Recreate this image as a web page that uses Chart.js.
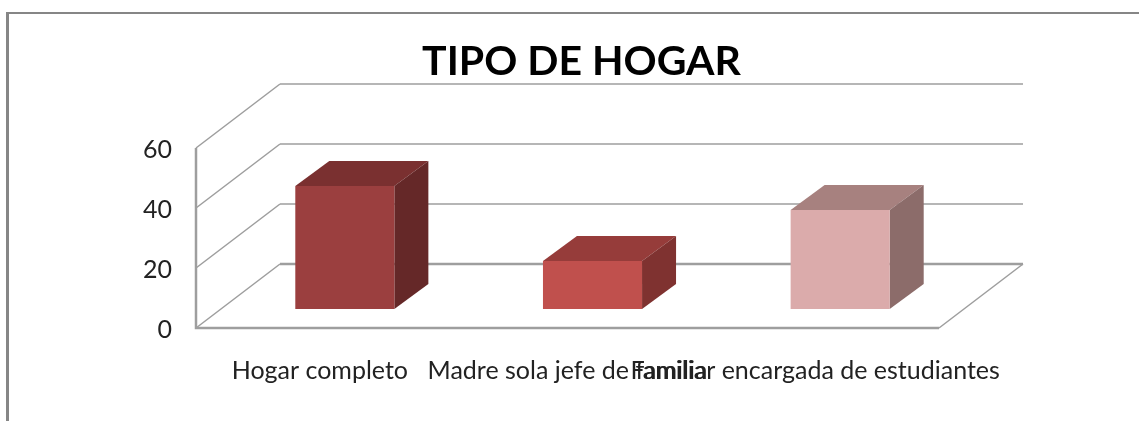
<!DOCTYPE html>
<html>
<head>
<meta charset="utf-8">
<script src="https://cdn.jsdelivr.net/npm/chart.js@4"></script>
<style>
html,body{margin:0;padding:0;background:#fff;overflow:hidden}
#wrap{position:relative;width:1139px;height:421px}
#top{position:absolute;left:6px;top:12px;right:0;height:2px;background:#868686}
#left{position:absolute;left:6px;top:12px;bottom:0;width:3px;background:#868686}
canvas{position:absolute;left:0;top:0}
</style>
</head>
<body>
<div id="wrap"><div id="top"></div><div id="left"></div><canvas id="c" width="1139" height="421"></canvas></div>
<script>
const titleText = "TIPO DE HOGAR";
const categories = ["Hogar completo", "Madre sola jefe de familia", "Familiar encargada de estudiantes"];
const seriesValues = [41, 16, 33];
const frontColors = ["#9B3F3F", "#C0504D", "#DBABAB"];
const topColors = ["#7A3030", "#963C3A", "#A7817F"];
const sideColors = ["#652828", "#7F3230", "#8C6C6A"];
const yTicks = [0, 20, 40, 60];

const wallDepth = {dx: 84, dy: -64};
const barShift = {dx: 25, dy: -19};
const barDepth = {dx: 34, dy: -25};
const gridColor = "#9E9E9E";

function line(ctx, pts, w) {
  ctx.beginPath();
  ctx.lineWidth = w;
  ctx.strokeStyle = gridColor;
  pts.forEach((p, i) => i ? ctx.lineTo(p[0], p[1]) : ctx.moveTo(p[0], p[1]));
  ctx.stroke();
}

const box3d = {
  id: "box3d",
  beforeDatasetsDraw(chart) {
    const {ctx, scales: {y}, chartArea: a} = chart;
    const {dx, dy} = wallDepth;
    ctx.save();
    yTicks.forEach(v => {
      const py = y.getPixelForValue(v);
      line(ctx, [[a.left, py], [a.left + dx, py + dy]], 1.5);
      line(ctx, [[a.left + dx, py + dy], [a.right + dx, py + dy]], v === 0 ? 2.5 : 1.5);
    });
    const y0 = y.getPixelForValue(0);
    line(ctx, [[a.left, y.getPixelForValue(60)], [a.left, y0], [a.right, y0]], 2.5);
    line(ctx, [[a.right, y0], [a.right + dx, y0 + dy]], 1.5);
    ctx.translate(barShift.dx, barShift.dy);
    chart.getDatasetMeta(0).data.forEach((b, i) => {
      const l = b.x - b.width / 2, r = b.x + b.width / 2;
      const t = b.y, bt = b.base;
      ctx.fillStyle = topColors[i];
      ctx.beginPath();
      ctx.moveTo(l, t); ctx.lineTo(l + barDepth.dx, t + barDepth.dy);
      ctx.lineTo(r + barDepth.dx, t + barDepth.dy); ctx.lineTo(r, t);
      ctx.closePath(); ctx.fill();
      ctx.fillStyle = sideColors[i];
      ctx.beginPath();
      ctx.moveTo(r, t); ctx.lineTo(r + barDepth.dx, t + barDepth.dy);
      ctx.lineTo(r + barDepth.dx, bt + barDepth.dy); ctx.lineTo(r, bt);
      ctx.closePath(); ctx.fill();
    });
    ctx.restore();
  },
  beforeDatasetDraw(chart) {
    chart.ctx.save();
    chart.ctx.translate(barShift.dx, barShift.dy);
  },
  afterDatasetDraw(chart) {
    chart.ctx.restore();
  }
};

new Chart(document.getElementById("c"), {
  type: "bar",
  data: {
    labels: categories,
    datasets: [{
      data: seriesValues,
      backgroundColor: frontColors,
      borderWidth: 0,
      categoryPercentage: 1,
      barPercentage: 0.4,
      clip: false,
      yAxisID: "y"
    }]
  },
  plugins: [box3d],
  options: {
    responsive: false,
    animation: false,
    events: [],
    layout: {padding: {left: 24, right: 0, top: 0, bottom: 0}},
    plugins: {
      legend: {display: false},
      tooltip: {enabled: false},
      title: {
        display: true,
        text: titleText,
        color: "#000",
        font: {family: "Lato", size: 41, weight: "bold"},
        padding: {top: 37, bottom: 61.8}
      }
    },
    scales: {
      x: {
        grid: {display: false},
        border: {display: false},
        afterFit(s) { s.height = 93; },
        ticks: {
          autoSkip: false, maxRotation: 0, minRotation: 0, padding: 20,
          color: "#222", font: {family: "Lato", size: 25}
        }
      },
      y: {
        min: 0, max: 60,
        grid: {display: false},
        border: {display: false},
        afterFit(s) { s.width = 172; },
        ticks: {
          stepSize: 20, padding: 16, labelOffset: 2,
          color: "#222", font: {family: "Lato", size: 25}
        }
      },
      spacer: {
        position: "right",
        min: 0, max: 60,
        grid: {display: false},
        border: {display: false},
        ticks: {display: false},
        afterFit(s) { s.width = 200; }
      }
    }
  }
});
</script>
</body>
</html>
